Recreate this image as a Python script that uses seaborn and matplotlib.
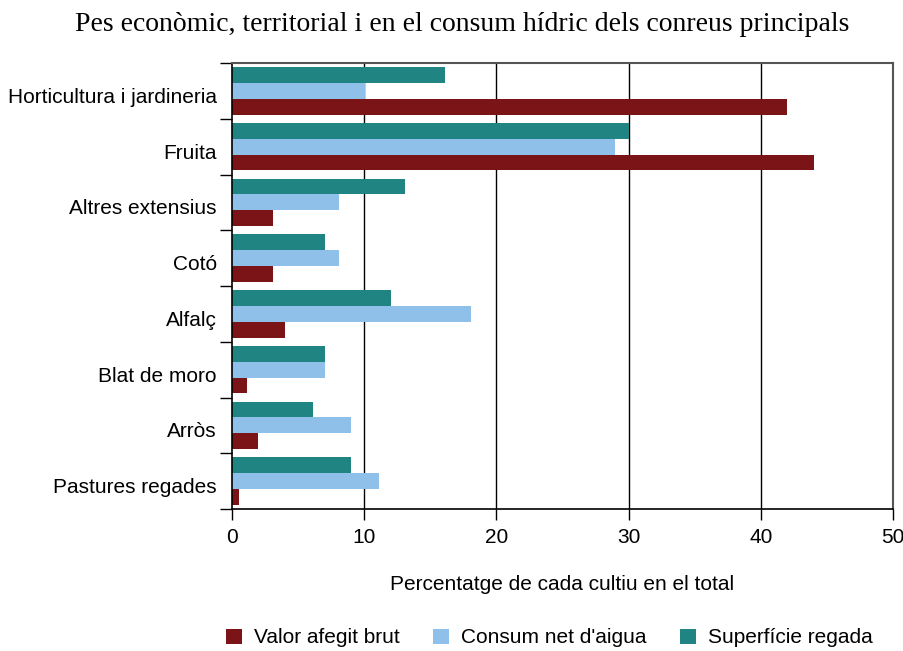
import matplotlib
matplotlib.use("Agg")
import matplotlib.pyplot as plt
import seaborn as sns
import pandas as pd
import numpy as np
from matplotlib.patches import Patch

# ─── Data ─────────────────────────────────────────────────────────────────────
crops = ["Horticultura i jardineria", "Fruita", "Altres extensius", "Cotó",
         "Alfalç", "Blat de moro", "Arròs", "Pastures regades"]
valor_afegit = [42.0, 44.0, 3.1, 3.1, 4.0, 1.1, 2.0, 0.5]
consum_aigua = [10.1, 29.0, 8.1, 8.1, 18.1, 7.0, 9.0, 11.1]
superficie = [16.1, 30.0, 13.1, 7.0, 12.0, 7.0, 6.1, 9.0]

series = ["Valor afegit brut", "Consum net d'aigua", "Superfície regada"]
COLORS = {"Valor afegit brut": "#7A1416",
          "Consum net d'aigua": "#8FC0E9",
          "Superfície regada": "#208483"}

df = pd.DataFrame({
    "cultiu": crops * 3,
    "serie": [s for s in series for _ in crops],
    "valor": valor_afegit + consum_aigua + superficie,
})

# ─── Figure ───────────────────────────────────────────────────────────────────
sns.set_theme(style="white")
plt.rcParams["font.family"] = ["Liberation Sans", "DejaVu Sans"]
plt.rcParams["text.color"] = "black"
plt.rcParams["axes.labelcolor"] = "black"

fig = plt.figure(figsize=(9.04, 6.51), dpi=100)
ax = fig.add_axes([0.2566, 0.2181, 0.7312, 0.6851])

# top-to-bottom order inside each group: teal, light blue, dark red
sns.barplot(data=df, y="cultiu", x="valor", hue="serie", order=crops,
            hue_order=series[::-1], palette=COLORS, width=0.85,
            orient="h", dodge=True, legend=False, ax=ax, saturation=1,
            linewidth=0, edgecolor="none")

ax.set_xlim(0, 50)
ax.set_ylim(len(crops) - 0.5, -0.5)
ax.set_xticks(np.arange(0, 51, 10))
ax.tick_params(axis="x", labelsize=15, length=8, width=1, direction="out",
               bottom=True, pad=6, colors="black")

# category labels without ticks, tick marks at the group boundaries
ax.set_yticks(np.arange(len(crops)) + 0.08)
ax.set_yticklabels(crops)
ax.tick_params(axis="y", which="major", length=0, labelsize=15, pad=11,
               labelcolor="black")
ax.set_yticks(np.arange(len(crops) + 1) - 0.5, minor=True)
ax.tick_params(axis="y", which="minor", length=9, width=1, left=True,
               direction="out", color="black")

for v in [10, 20, 30, 40]:
    ax.axvline(v, color="black", lw=1, zorder=0)

for side in ["left", "bottom"]:
    ax.spines[side].set_color("black")
    ax.spines[side].set_linewidth(1.2)
for side in ["top", "right"]:
    ax.spines[side].set_color("#555555")
    ax.spines[side].set_linewidth(1.5)

ax.set_ylabel("")
ax.set_xlabel("Percentatge de cada cultiu en el total", fontsize=15, labelpad=20)

fig.text(0.511, 0.963, "Pes econòmic, territorial i en el consum hídric dels conreus principals",
         ha="center", va="center", fontsize=20, family=["Liberation Serif", "DejaVu Serif"])

handles = [Patch(facecolor=COLORS[s], edgecolor="none", label=s) for s in series]
fig.legend(handles=handles, loc="center", bbox_to_anchor=(0.608, 0.02), ncol=3,
           frameon=False, fontsize=15, handlelength=0.75, handleheight=0.75,
           handletextpad=0.6, columnspacing=1.6)

fig.savefig("out.png", dpi=100)
